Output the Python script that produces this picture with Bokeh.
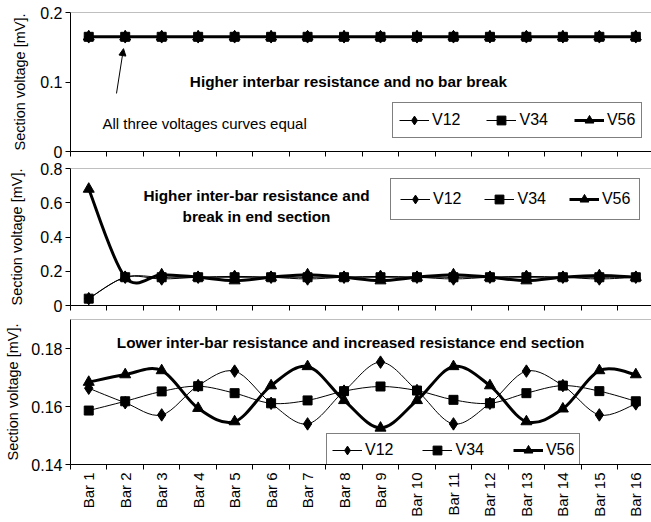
import math
from bokeh.plotting import figure
from bokeh.models import (FixedTicker, Range1d, Legend, LegendItem, Label,
                          Arrow, NormalHead, Span)
from bokeh.layouts import column
from bokeh.embed import file_html
from bokeh.resources import INLINE

# ---------------- data ----------------
bars = ["Bar 1", "Bar 2", "Bar 3", "Bar 4", "Bar 5", "Bar 6", "Bar 7", "Bar 8",
        "Bar 9", "Bar 10", "Bar 11", "Bar 12", "Bar 13", "Bar 14", "Bar 15", "Bar 16"]
xpos = [1, 2, 3, 4, 5, 6, 7, 8, 9, 10, 11, 12, 13, 14, 15, 16]

# panel 1: higher interbar resistance, no bar break
top_v12 = [0.165, 0.165, 0.165, 0.165, 0.165, 0.165, 0.165, 0.165,
           0.165, 0.165, 0.165, 0.165, 0.165, 0.165, 0.165, 0.165]
top_v34 = [0.165, 0.165, 0.165, 0.165, 0.165, 0.165, 0.165, 0.165,
           0.165, 0.165, 0.165, 0.165, 0.165, 0.165, 0.165, 0.165]
top_v56 = [0.165, 0.165, 0.165, 0.165, 0.165, 0.165, 0.165, 0.165,
           0.165, 0.165, 0.165, 0.165, 0.165, 0.165, 0.165, 0.165]

# panel 2: higher inter-bar resistance and break in end section
mid_v12 = [0.04, 0.165, 0.155, 0.165, 0.170, 0.165, 0.155, 0.165,
           0.170, 0.165, 0.155, 0.165, 0.170, 0.165, 0.155, 0.165]
mid_v34 = [0.04, 0.165, 0.165, 0.165, 0.165, 0.165, 0.165, 0.165,
           0.165, 0.165, 0.165, 0.165, 0.165, 0.165, 0.165, 0.165]
mid_v56 = [0.68, 0.165, 0.180, 0.165, 0.145, 0.165, 0.180, 0.165,
           0.145, 0.165, 0.180, 0.165, 0.145, 0.165, 0.175, 0.165]

# panel 3: lower inter-bar resistance and increased resistance end section
low_v12 = [0.1663, 0.1613, 0.1571, 0.1672, 0.1722, 0.1611, 0.1540, 0.1653,
           0.1753, 0.1655, 0.1540, 0.1611, 0.1722, 0.1672, 0.1571, 0.1609]
low_v34 = [0.1586, 0.1618, 0.1652, 0.1670, 0.1646, 0.1611, 0.1621, 0.1653,
           0.1669, 0.1655, 0.1623, 0.1611, 0.1646, 0.1672, 0.1653, 0.1618]
low_v56 = [0.1684, 0.1710, 0.1724, 0.1594, 0.1548, 0.1672, 0.1738, 0.1621,
           0.1526, 0.1621, 0.1738, 0.1672, 0.1548, 0.1592, 0.1724, 0.1710]

series_names = ["V12", "V34", "V56"]
FONT = "Liberation Sans"


def smooth_segments(xs, ys):
    """Bezier control points for an Excel-like smoothed line through the data."""
    n = len(xs)
    d = dict(x0=[], y0=[], x1=[], y1=[], cx0=[], cy0=[], cx1=[], cy1=[])
    for i in range(n - 1):
        a = max(i - 1, 0)
        b = min(i + 2, n - 1)
        d["x0"].append(xs[i]); d["y0"].append(ys[i])
        d["x1"].append(xs[i + 1]); d["y1"].append(ys[i + 1])
        d["cx0"].append(xs[i] + (xs[i + 1] - xs[a]) / 6.0)
        d["cy0"].append(ys[i] + (ys[i + 1] - ys[a]) / 6.0)
        d["cx1"].append(xs[i + 1] - (xs[b] - xs[i]) / 6.0)
        d["cy1"].append(ys[i + 1] - (ys[b] - ys[i]) / 6.0)
    return d


STYLES = [
    dict(marker="diamond", size=12.5, lw=1),
    dict(marker="square", size=9, lw=1),
    dict(marker="triangle", size=11, lw=3),
]


def make_panel(height, top_b, bot_b, y0, y1, yticks, data, show_labels,
               label_standoff, legend_loc, legend_pad, legend_spacing):
    p = figure(width=651, height=height, x_range=Range1d(0.5, 16.43),
               y_range=Range1d(y0, y1), output_backend="svg",
               toolbar_location=None, min_border_left=70, min_border_right=0,
               min_border_top=top_b, min_border_bottom=bot_b)
    p.grid.visible = False
    p.outline_line_color = None
    p.background_fill_color = "white"
    p.border_fill_color = "white"

    # x axis (category axis, ticks between categories)
    xa = p.xaxis[0]
    xa.ticker = FixedTicker(ticks=xpos if show_labels else [],
                            minor_ticks=[k - 0.5 for k in range(1, 18)])
    xa.major_tick_out = 0
    xa.major_tick_in = 0
    xa.minor_tick_out = 5
    xa.minor_tick_in = 0
    xa.minor_tick_line_color = "black"
    xa.axis_line_color = "black"
    xa.major_label_standoff = 3
    xa.major_label_text_font = FONT
    xa.major_label_text_font_size = "15px"
    xa.major_label_text_color = "black"
    if show_labels:
        xa.major_label_overrides = {x: lab for x, lab in zip(xpos, bars)}
        xa.major_label_orientation = math.pi / 2

    # y axis
    ya = p.yaxis[0]
    ya.ticker = FixedTicker(ticks=yticks, minor_ticks=[])
    ya.major_tick_out = 5
    ya.major_tick_in = 0
    ya.minor_tick_out = 0
    ya.minor_tick_in = 0
    ya.axis_line_color = "black"
    ya.major_tick_line_color = "black"
    ya.major_label_standoff = 3
    ya.major_label_text_font = FONT
    ya.major_label_text_font_size = "16px"
    ya.major_label_text_color = "black"
    if yticks[0] == 0:
        ya.major_label_overrides = {0: "0"}
    ya.axis_label = "Section voltage [mV]."
    ya.axis_label_text_font = FONT
    ya.axis_label_text_font_size = "14.5px"
    ya.axis_label_text_font_style = "normal"
    ya.axis_label_text_color = "black"
    ya.axis_label_standoff = label_standoff

    # gray top border of plot area
    p.add_layout(Span(location=y1, dimension="width", line_color="#808080",
                      line_width=1))

    items = []
    for name, ys, st in zip(series_names, data, STYLES):
        seg = smooth_segments(xpos, ys)
        bz = p.bezier(x0=seg["x0"], y0=seg["y0"], x1=seg["x1"], y1=seg["y1"],
                      cx0=seg["cx0"], cy0=seg["cy0"], cx1=seg["cx1"], cy1=seg["cy1"],
                      line_color="black", line_width=st["lw"])
        sc = p.scatter(xpos, ys, marker=st["marker"], size=st["size"],
                       fill_color="black", line_color="black")
        items.append(LegendItem(label=name, renderers=[bz, sc]))

    leg = Legend(items=items, orientation="horizontal", location=legend_loc,
                 padding=legend_pad, spacing=legend_spacing, margin=0,
                 glyph_width=30, glyph_height=22, label_height=22,
                 label_standoff=3, label_text_font=FONT,
                 label_text_font_size="16px", label_text_color="black",
                 border_line_color="black", border_line_width=1,
                 background_fill_color="white", background_fill_alpha=1.0)
    p.add_layout(leg)
    return p


def title(p, x, y, text):
    p.add_layout(Label(x=x, y=y, text=text, text_font=FONT,
                       text_font_size="15.3px", text_font_style="bold",
                       text_align="center", text_baseline="middle",
                       text_color="black"))


# ---------------- panel 1 ----------------
p1 = make_panel(160, 12, 9, 0, 0.2, [0, 0.1, 0.2],
                [top_v12, top_v34, top_v56], False, 9, (322, 13), 6, 26)
title(p1, 8.12, 0.1007, "Higher interbar resistance and no bar break")
p1.add_layout(Label(x=1.377, y=0.0403, text="All three voltages curves equal",
                    text_font=FONT, text_font_size="15px", text_align="left",
                    text_baseline="middle", text_color="black"))
p1.add_layout(Arrow(end=NormalHead(size=7, fill_color="black", line_color="black"),
                    x_start=1.761, y_start=0.0835, x_end=1.953, y_end=0.148,
                    line_color="black", line_width=1))

# ---------------- panel 2 ----------------
p2 = make_panel(153, 8, 8, 0, 0.8, [0, 0.2, 0.4, 0.6, 0.8],
                [mid_v12, mid_v34, mid_v56], False, 12, (320, 85), 9, 23)
title(p2, 5.6, 0.642, "Higher inter-bar resistance and")
title(p2, 5.6, 0.520, "break in end section")

# ---------------- panel 3 ----------------
p3 = make_panel(209, 6, 58, 0.14, 0.19, [0.14, 0.16, 0.18],
                [low_v12, low_v34, low_v56], True, 7, (256, -3), 5, 29)
title(p3, 8.18, 0.182, "Lower inter-bar resistance and increased resistance end section")

layout = column(p1, p2, p3, spacing=0)
open("out.html", "w").write(file_html(layout, INLINE))
